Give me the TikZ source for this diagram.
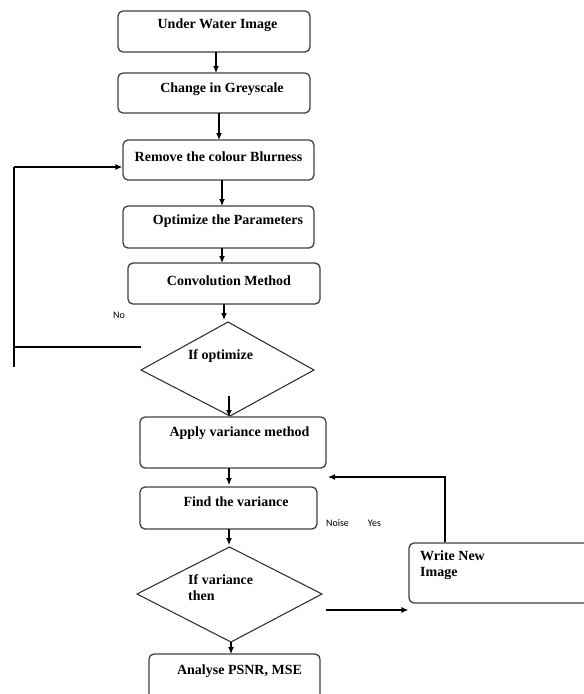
\documentclass[tikz,border=0pt]{standalone}
\usepackage{fontspec}
\setmainfont{Liberation Serif}
\newfontfamily\labfont{Carlito}
\usetikzlibrary{arrows.meta}
\tikzset{
  box/.style={draw=black!75, line width=1.3pt, rounded corners=5pt, inner sep=0pt},
  txt/.style={inner sep=0pt, font=\fontsize{14}{16}\selectfont\bfseries},
  lab/.style={inner sep=0pt, font=\fontsize{10}{12}\selectfont\labfont},
  conn/.style={line width=1.2pt, -{Latex[length=7pt,width=6pt]}},
  plain/.style={line width=1.2pt},
  dia/.style={draw=black!80, line width=1.1pt}
}
\begin{document}
\begin{tikzpicture}[x=1pt,y=-1pt]
\useasboundingbox (0,0) rectangle (584,694);
% boxes
\node[box, minimum width=192, minimum height=41] (b1) at (214,31.5) {};
\node[box, minimum width=192, minimum height=40] (b2) at (214,93) {};
\node[box, minimum width=191, minimum height=40] (b3) at (218.5,160) {};
\node[box, minimum width=191, minimum height=42] (b4) at (218.5,227) {};
\node[box, minimum width=192, minimum height=41] (b5) at (224,283.5) {};
\node[box, minimum width=186, minimum height=51] (b7) at (233,442.5) {};
\node[box, minimum width=177, minimum height=42] (b8) at (228.5,508) {};
\node[box, minimum width=171, minimum height=46] (b10) at (234.5,677) {};
\node[box, minimum width=191, minimum height=60] (b11) at (504.5,573) {};
% diamonds
\coordinate (d1t) at (228,322);
\coordinate (d1l) at (141,370);
\coordinate (d1r) at (314,370);
\coordinate (d1b) at (230,416);
\draw[dia] (d1t) -- (d1r) -- (d1b) -- (d1l) -- cycle;
\coordinate (d2t) at (229.5,547);
\coordinate (d2l) at (137,594);
\coordinate (d2r) at (322,594);
\coordinate (d2b) at (231,642);
\draw[dia] (d2t) -- (d2r) -- (d2b) -- (d2l) -- cycle;
% texts
\node[txt] (t1) at (217.5,25) {Under Water Image};
\node[txt] (t2) at (222,89) {Change in Greyscale};
\node[txt] (t3) at (218.5,157) {Remove the colour Blurness};
\node[txt] (t4) at (228,221) {Optimize the Parameters};
\node[txt] (t5) at (229,281) {Convolution Method};
\node[txt] (t6) at (220.5,356) {If optimize};
\node[txt] (t7) at (239.5,433) {Apply variance method};
\node[txt] (t8) at (236,502) {Find the variance};
\node[txt, align=left, anchor=north west] (t9) at (188,574) {If variance\\then};
\node[txt] (t10) at (239.5,671) {Analyse PSNR, MSE};
\node[txt, align=left, anchor=north west] (t11) at (420,551) {Write New\\Image};
\node[lab] (no) at (119,315) {No};
\node[lab] (noise) at (337.5,523) {Noise};
\node[lab] (yes) at (374.5,523) {Yes};
% connectors
\draw[conn] (216,52) -- (216,73);
\draw[conn] (219,113) -- (219,140);
\draw[conn] (222,180) -- (222,206);
\draw[conn] (222,248) -- (222,263);
\draw[conn] (224,304) -- (224,320);
\coordinate (dm) at (229,396);
\draw[conn] (dm) -- (229,417);
\draw[conn] (229,468) -- (229,485);
\draw[conn] (229,529) -- (229,545);
\draw[conn] (231,642) -- (231,654);
% No loop
\coordinate (n1) at (141,347);
\coordinate (n2) at (14,347);
\coordinate (n3) at (14,367);
\coordinate (n4) at (14,167);
\draw[plain] (n1) -- (n2);
\draw[plain] (n3) -- (n4);
\draw[conn] (n4) -- (b3.west |- n4);
% Yes path
\coordinate (y1) at (326,610);
\draw[conn] (y1) -- (b11.west |- y1);
\coordinate (f1) at (445,477);
\coordinate (f2) at (328,477);
\draw[conn] (b11.north -| f1) -- (f1) -- (f2);
\end{tikzpicture}
\end{document}
